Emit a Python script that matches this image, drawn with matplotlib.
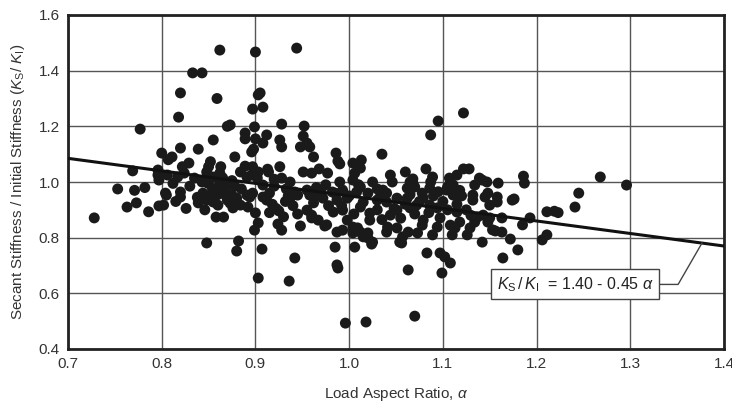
import numpy as np
import matplotlib
matplotlib.use("Agg")
import matplotlib.pyplot as plt

plt.rcParams['font.family'] = ['Liberation Sans', 'DejaVu Sans']
plt.rcParams['mathtext.fontset'] = 'custom'
plt.rcParams['mathtext.rm'] = 'Liberation Sans'
plt.rcParams['mathtext.it'] = 'Liberation Sans:italic'

# Measured specimens, grouped by load aspect ratio band
alpha_lt080 = [0.728, 0.753, 0.763, 0.773, 0.786, 0.797, 0.802, 0.769, 0.771, 0.782,
               0.777, 0.796, 0.797, 0.796, 0.800]
ratio_lt080 = [0.871, 0.975, 0.910, 0.925, 0.893, 0.914, 0.917, 1.040, 0.970, 0.980,
               1.190, 1.025, 1.007, 1.043, 1.104]

alpha_080 = [0.818, 0.820, 0.833, 0.843, 0.839, 0.820, 0.811, 0.807, 0.829, 0.822,
             0.805, 0.815, 0.820, 0.824, 0.817, 0.806, 0.804, 0.820, 0.848, 0.835,
             0.843, 0.849, 0.848, 0.839, 0.846, 0.844, 0.830, 0.812, 0.838, 0.826]
ratio_080 = [1.233, 1.320, 1.392, 1.392, 1.118, 1.122, 1.090, 1.080, 1.068, 1.055,
             0.953, 0.930, 0.946, 1.032, 1.018, 1.025, 0.960, 0.964, 1.036, 1.014,
             1.000, 0.996, 0.781, 0.925, 0.900, 0.960, 0.985, 0.995, 0.945, 0.905]

alpha_085 = [0.862, 0.859, 0.870, 0.873, 0.889, 0.855, 0.878, 0.852, 0.850, 0.863,
             0.889, 0.897, 0.889, 0.900, 0.896, 0.898, 0.899, 0.897, 0.903, 0.905,
             0.908, 0.900, 0.903, 0.862, 0.855, 0.862, 0.870, 0.854, 0.860, 0.868,
             0.884, 0.891, 0.896, 0.902, 0.852, 0.859, 0.868, 0.875, 0.891, 0.897,
             0.848, 0.855, 0.860, 0.870, 0.873, 0.876, 0.880, 0.884, 0.892, 0.894,
             0.858, 0.866, 0.900, 0.903, 0.899, 0.882, 0.880, 0.878, 0.885, 0.865,
             0.875]
ratio_085 = [1.474, 1.300, 1.200, 1.205, 1.176, 1.151, 1.090, 1.073, 1.055, 1.055,
             1.057, 1.055, 1.155, 1.155, 1.108, 1.118, 1.198, 1.262, 1.313, 1.320,
             1.269, 1.467, 1.036, 1.032, 1.018, 1.000, 0.996, 0.978, 0.978, 0.971,
             1.036, 1.018, 1.025, 1.014, 0.953, 0.953, 0.953, 0.953, 0.953, 0.960,
             0.935, 0.928, 0.917, 0.935, 0.924, 0.907, 0.942, 0.917, 0.910, 0.946,
             0.874, 0.874, 0.889, 0.853, 0.827, 0.788, 0.752, 0.985, 0.975, 1.015,
             1.005]

alpha_090 = [0.907, 0.903, 0.908, 0.908, 0.912, 0.912, 0.908, 0.926, 0.928, 0.928,
             0.944, 0.914, 0.926, 0.913, 0.928, 0.937, 0.940, 0.925, 0.924, 0.928,
             0.936, 0.942, 0.948, 0.942, 0.918, 0.932, 0.922, 0.940, 0.915, 0.935,
             0.945, 0.930, 0.915, 0.937, 0.945, 0.920, 0.933, 0.948, 0.920]
ratio_090 = [0.759, 0.655, 0.989, 0.946, 0.935, 1.169, 1.140, 1.151, 1.126, 1.208,
             1.481, 1.036, 1.055, 1.046, 1.014, 1.000, 0.960, 0.896, 0.849, 0.827,
             0.644, 0.727, 0.842, 0.964, 0.920, 0.930, 0.905, 0.915, 0.960, 0.950,
             0.885, 0.875, 0.890, 0.942, 0.953, 0.985, 0.975, 1.126, 1.010]

alpha_095 = [0.952, 0.951, 0.955, 0.958, 0.962, 0.951, 0.960, 0.968, 0.977, 0.955,
             0.958, 0.955, 0.960, 0.967, 0.976, 0.987, 0.974, 0.993, 0.985, 0.987,
             0.988, 0.996, 0.986, 0.988, 0.990, 0.990, 0.993, 0.982, 0.960, 0.983,
             0.993, 0.998, 0.972, 0.987, 0.998, 0.964, 0.965, 0.975, 0.985, 0.970,
             0.978, 0.962, 0.992]
ratio_095 = [1.201, 1.165, 1.140, 1.126, 1.090, 1.036, 1.032, 1.047, 1.032, 0.971,
             0.953, 0.899, 0.871, 0.863, 0.846, 0.820, 0.842, 0.827, 0.766, 0.702,
             0.691, 0.493, 1.104, 1.075, 1.065, 1.000, 0.971, 0.964, 0.881, 0.892,
             0.899, 0.863, 0.942, 0.935, 0.942, 0.953, 0.980, 0.990, 0.960, 0.965,
             0.915, 0.925, 0.915]

alpha_100 = [1.004, 1.013, 1.012, 1.006, 1.035, 1.004, 1.012, 1.008, 1.044, 1.046,
             1.036, 1.033, 1.018, 1.006, 1.024, 1.004, 1.009, 1.015, 1.020, 1.025,
             1.004, 1.012, 1.020, 1.022, 1.022, 1.012, 1.015, 1.030, 1.040, 1.044,
             1.040, 1.041, 1.000, 1.020, 1.030, 1.010, 1.040, 1.025, 1.030, 1.048,
             1.035, 1.005]
ratio_100 = [1.068, 1.079, 1.050, 1.032, 1.100, 1.007, 0.982, 0.964, 1.025, 1.000,
             0.971, 0.946, 0.497, 0.766, 0.777, 0.817, 0.835, 0.803, 0.817, 0.784,
             0.838, 0.820, 0.799, 0.863, 0.888, 0.910, 0.928, 0.935, 0.928, 0.881,
             0.820, 0.838, 0.950, 0.960, 0.975, 0.990, 0.960, 1.000, 0.900, 0.905,
             0.865, 0.885]

alpha_105 = [1.051, 1.051, 1.057, 1.054, 1.063, 1.073, 1.078, 1.079, 1.089, 1.094,
             1.097, 1.065, 1.072, 1.086, 1.094, 1.079, 1.062, 1.051, 1.087, 1.095,
             1.060, 1.065, 1.070, 1.062, 1.068, 1.068, 1.082, 1.089, 1.087, 1.086,
             1.063, 1.070, 1.099, 1.083, 1.097, 1.056, 1.060, 1.075, 1.090, 1.085,
             1.070, 1.055, 1.095, 1.078, 1.065]
ratio_105 = [0.899, 0.835, 0.803, 0.784, 0.820, 0.817, 0.845, 0.863, 0.810, 0.838,
             0.871, 0.907, 0.917, 0.917, 0.907, 0.942, 0.942, 0.942, 1.169, 1.219,
             1.036, 1.000, 0.982, 0.978, 1.011, 0.996, 1.047, 1.018, 1.000, 0.978,
             0.684, 0.518, 0.673, 0.745, 0.745, 0.781, 0.920, 0.930, 0.950, 0.890,
             0.885, 0.870, 0.965, 0.960, 0.955]

alpha_110 = [1.102, 1.108, 1.122, 1.115, 1.107, 1.111, 1.105, 1.108, 1.104, 1.111,
             1.122, 1.128, 1.139, 1.147, 1.134, 1.142, 1.148, 1.132, 1.142, 1.126,
             1.110, 1.143, 1.137, 1.148, 1.134, 1.129, 1.115, 1.118, 1.108, 1.113,
             1.132, 1.145, 1.100, 1.115, 1.120, 1.105, 1.125, 1.130, 1.118]
ratio_110 = [0.731, 0.709, 1.248, 1.025, 1.014, 0.989, 0.982, 1.000, 0.971, 0.953,
             1.047, 1.047, 1.014, 1.000, 0.989, 1.007, 0.960, 0.953, 0.784, 0.810,
             0.810, 0.881, 0.874, 0.856, 0.856, 0.835, 0.892, 0.856, 0.845, 0.835,
             0.935, 0.946, 0.930, 0.920, 0.950, 0.900, 0.900, 0.880, 0.970]

alpha_115 = [1.159, 1.186, 1.187, 1.158, 1.158, 1.176, 1.268, 1.296, 1.245, 1.241,
             1.211, 1.219, 1.223, 1.211, 1.206, 1.193, 1.185, 1.180, 1.172, 1.164,
             1.163, 1.156, 1.153, 1.163, 1.150, 1.150, 1.174]
ratio_115 = [0.996, 1.021, 0.996, 0.946, 0.928, 0.939, 1.018, 0.989, 0.960, 0.910,
             0.893, 0.895, 0.890, 0.810, 0.792, 0.871, 0.846, 0.756, 0.795, 0.727,
             0.820, 0.824, 0.828, 0.871, 0.871, 0.917, 0.935]

# Fitted relation Ks/Ki = a - b * alpha
fit_a, fit_b = 1.40, 0.45

x_ticks = [0.7, 0.8, 0.9, 1.0, 1.1, 1.2, 1.3, 1.4]
y_ticks = [0.4, 0.6, 0.8, 1.0, 1.2, 1.4, 1.6]

alpha = np.concatenate([alpha_lt080, alpha_080, alpha_085, alpha_090, alpha_095,
                        alpha_100, alpha_105, alpha_110, alpha_115])
ratio = np.concatenate([ratio_lt080, ratio_080, ratio_085, ratio_090, ratio_095,
                        ratio_100, ratio_105, ratio_110, ratio_115])

fig = plt.figure(figsize=(7.32, 4.11), dpi=100)
ax = fig.add_axes([68 / 732, 1 - 349 / 411, 656 / 732, 334 / 411])

ax.set_xlim(0.7, 1.4)
ax.set_ylim(0.4, 1.6)
ax.set_xticks(x_ticks)
ax.set_yticks(y_ticks)
ax.set_xticklabels([f"{v:.1f}" for v in x_ticks])
ax.set_yticklabels([f"{v:.1f}" for v in y_ticks])
ax.tick_params(length=0, labelsize=11, labelcolor='#333333', pad=6)
ax.grid(True, color='#555555', linewidth=1.0)
ax.set_axisbelow(True)
for s in ax.spines.values():
    s.set_linewidth(2.0)
    s.set_color('#222222')

ax.scatter(alpha, ratio, s=62, color='#1a1a1a', edgecolors='none', zorder=3)

xf = np.array([0.7, 1.4])
ax.plot(xf, fit_a - fit_b * xf, color='#111111', linewidth=2.2, zorder=4, clip_on=True)

# Equation label with a leader to the fitted line
lx = 1.3765
ax.annotate(r"$K_\mathrm{S}\,/\,K_\mathrm{I}$  = 1.40 - 0.45 $\alpha$",
            xy=(lx, fit_a - fit_b * lx), xytext=(1.241, 0.632),
            ha='center', va='center', fontsize=11.5, color='#222222', zorder=5,
            bbox=dict(boxstyle='square,pad=0.35', fc='white', ec='#444444', lw=1.0),
            arrowprops=dict(arrowstyle='-', color='#444444', lw=1.0,
                            connectionstyle='angle,angleA=0,angleB=60,rad=0',
                            shrinkA=0, shrinkB=0))

ax.set_xlabel(r"Load Aspect Ratio, $\alpha$", fontsize=11, color='#333333', labelpad=10)
ax.set_ylabel(r"Secant Stiffness / Initial Stiffness ($K_\mathrm{S}$/ $K_\mathrm{I}$)",
              fontsize=11, color='#333333', labelpad=8)

fig.savefig("out.png", dpi=100)
